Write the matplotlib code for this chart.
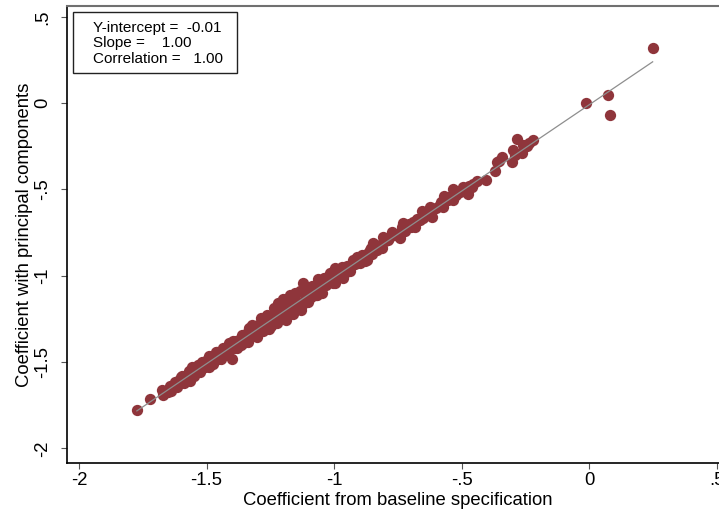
import numpy as np
import matplotlib
matplotlib.use('Agg')
import matplotlib.pyplot as plt
from matplotlib.patches import Rectangle

plt.rcParams['font.family'] = ['Liberation Sans', 'DejaVu Sans']

# coefficient pairs (baseline spec, principal components spec)
baseline = [
    -1.773, -1.722, -1.676, -1.669,
    -1.660, -1.652, -1.645, -1.638, -1.630, -1.624, -1.617, -1.610, -1.603, -1.596,
    -1.590, -1.583, -1.577, -1.570, -1.563, -1.556, -1.550, -1.544, -1.537, -1.530,
    -1.524, -1.518, -1.511, -1.505, -1.498,
    -1.492, -1.486, -1.480, -1.474, -1.468, -1.461, -1.455, -1.448, -1.442, -1.436,
    -1.430, -1.423, -1.417, -1.410, -1.402, -1.398, -1.392, -1.386, -1.380, -1.374,
    -1.368, -1.362, -1.356, -1.350, -1.344, -1.338, -1.332, -1.326, -1.320, -1.315,
    -1.309, -1.303,
    -1.297, -1.291, -1.285, -1.279, -1.273, -1.267, -1.261, -1.255, -1.249, -1.243,
    -1.237, -1.231, -1.225, -1.219, -1.213, -1.207, -1.201, -1.195, -1.189, -1.183,
    -1.177, -1.171, -1.165, -1.159, -1.153, -1.147, -1.141, -1.135, -1.129, -1.121,
    -1.115, -1.109, -1.103, -1.097, -1.091, -1.085, -1.079, -1.073, -1.067, -1.061,
    -1.055, -1.049, -1.045, -1.036, -1.030, -1.020, -1.016, -1.008, -0.996, -0.996,
    -0.990, -0.982, -0.975, -0.964, -0.960, -0.951, -0.948, -0.940, -0.930, -0.925,
    -0.918, -0.905, -0.898, -0.892, -0.885, -0.878, -0.872, -0.865, -0.859, -0.852,
    -0.846, -0.840, -0.830, -0.820, -0.813, -0.807, -0.800, -0.790, -0.785, -0.774,
    -0.760, -0.750, -0.742, -0.735, -0.729, -0.720, -0.705, -0.700, -0.690, -0.683,
    -0.675, -0.663, -0.657, -0.650, -0.640, -0.624, -0.617, -0.600, -0.590, -0.580,
    -0.572, -0.569, -0.555, -0.548, -0.533, -0.533, -0.520, -0.505, -0.494, -0.490,
    -0.474, -0.470, -0.461, -0.455, -0.440, -0.405, -0.369, -0.363, -0.355, -0.343,
    -0.304, -0.300, -0.290, -0.282, -0.265, -0.258, -0.245, -0.235, -0.219,
    -0.013, 0.075, 0.082, 0.249,
    # extra points filling the thick part of the band
    -1.600, -1.566, -1.534, -1.489, -1.458, -1.427, -1.395, -1.365, -1.335, -1.306,
    -1.276, -1.246, -1.216, -1.186, -1.156, -1.126, -1.100, -1.070, -1.040, -1.005,
    -0.970, -0.938, -0.910, -0.880, -0.855,
]
principal = [
    -1.778, -1.716, -1.662, -1.691,
    -1.665, -1.674, -1.640, -1.668, -1.638, -1.614, -1.645, -1.612, -1.618, -1.581,
    -1.622, -1.583, -1.597, -1.552, -1.576, -1.526, -1.580, -1.542, -1.555, -1.518,
    -1.559, -1.498, -1.521, -1.530, -1.490,
    -1.464, -1.506, -1.470, -1.512, -1.473, -1.441, -1.480, -1.446, -1.482, -1.421,
    -1.445, -1.418, -1.449, -1.388, -1.482, -1.406, -1.420, -1.376, -1.420, -1.374,
    -1.390, -1.344, -1.391, -1.355, -1.336, -1.383, -1.302, -1.344, -1.285, -1.345,
    -1.307, -1.353,
    -1.287, -1.316, -1.245, -1.319, -1.253, -1.287, -1.226, -1.310, -1.244, -1.278,
    -1.187, -1.236, -1.275, -1.159, -1.188, -1.237, -1.136, -1.195, -1.254, -1.143,
    -1.202, -1.109, -1.150, -1.219, -1.098, -1.187, -1.151, -1.090, -1.199, -1.041,
    -1.135, -1.089, -1.153, -1.092, -1.121, -1.060, -1.094, -1.063, -1.112, -1.021,
    -1.064, -1.102, -1.040, -1.015, -1.052, -1.020, -0.986, -1.030, -0.955, -1.045,
    -0.985, -1.000, -0.975, -1.015, -0.990, -0.957, -0.945, -0.962, -0.935, -0.909,
    -0.930, -0.905, -0.925, -0.880, -0.885, -0.895, -0.909, -0.870, -0.851, -0.872,
    -0.812, -0.830, -0.850, -0.820, -0.841, -0.774, -0.800, -0.795, -0.780, -0.745,
    -0.765, -0.760, -0.783, -0.720, -0.693, -0.740, -0.700, -0.715, -0.690, -0.716,
    -0.670, -0.677, -0.623, -0.665, -0.640, -0.604, -0.658, -0.605, -0.595, -0.575,
    -0.604, -0.538, -0.560, -0.545, -0.498, -0.561, -0.530, -0.515, -0.484, -0.505,
    -0.527, -0.480, -0.484, -0.470, -0.450, -0.445, -0.392, -0.340, -0.333, -0.314,
    -0.340, -0.274, -0.300, -0.206, -0.287, -0.243, -0.250, -0.230, -0.212,
    0.000, 0.047, -0.068, 0.319,
    -1.585, -1.610, -1.520, -1.530, -1.440, -1.462, -1.380, -1.400, -1.310, -1.340,
    -1.250, -1.290, -1.185, -1.230, -1.130, -1.170, -1.080, -1.110, -1.015, -1.040,
    -0.950, -0.975, -0.892, -0.915, -0.840,
]

intercept = -0.01
slope = 1.00
stats_lines = ['Y-intercept =  -0.01', 'Slope =    1.00', 'Correlation =   1.00']

xticks = [-2, -1.5, -1, -0.5, 0, 0.5]
xticklabels = ['-2', '-1.5', '-1', '-.5', '0', '.5']
yticks = [-2, -1.5, -1, -0.5, 0, 0.5]
yticklabels = ['-2', '-1.5', '-1', '-.5', '0', '.5']

x = np.array(baseline)
y = np.array(principal)

fig = plt.figure(figsize=(7.19, 5.14), dpi=100)
ax = fig.add_axes([0.0928, 0.0992, 0.921, 0.8897])

ax.scatter(x, y, s=66, color='#8f353b', linewidths=0, zorder=2)
xs = np.array([x.min(), x.max()])
ax.plot(xs, intercept + slope * xs, color='#8e8e8e', lw=0.9, zorder=3)

ax.set_xlim(-2.048, 0.548)
ax.set_ylim(-2.085, 0.564)

ax.set_xticks(xticks)
ax.set_xticklabels(xticklabels)
ax.set_yticks(yticks)
ax.set_yticklabels(yticklabels, rotation=90, va='center')
ax.tick_params(direction='out', length=4.5, width=0.8, color='#555555',
               labelsize=13.3, pad=2)
ax.tick_params(axis='y', pad=6.5)

for side in ['left', 'bottom']:
    ax.spines[side].set_color('black')
    ax.spines[side].set_linewidth(1.2)
ax.spines['top'].set_color('#707070')
ax.spines['top'].set_linewidth(1.5)
ax.spines['right'].set_visible(False)

ax.set_xlabel('Coefficient from baseline specification', fontsize=13.3, labelpad=2)
ax.set_ylabel('Coefficient with principal components', fontsize=13.3, labelpad=1)

# stats box in the upper left
fig.patches.append(Rectangle((73 / 719, 1 - 73 / 514), 164 / 719, 61 / 514,
                             transform=fig.transFigure, facecolor='white',
                             edgecolor='#222222', lw=1.0, zorder=5))
for i, s in enumerate(stats_lines):
    fig.text(93 / 719, 1 - (28 + 15.5 * i) / 514, s, fontsize=11,
             va='center', ha='left', zorder=6)

fig.savefig('out.png', dpi=100)
